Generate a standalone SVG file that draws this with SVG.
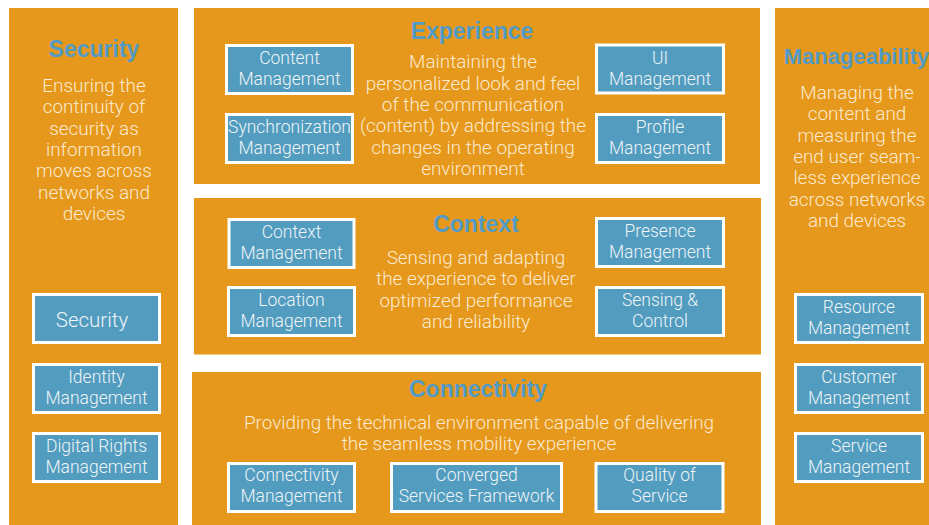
<svg xmlns="http://www.w3.org/2000/svg" width="929" height="525" viewBox="0 0 929 525">
<style>
.panel{fill:#E5981B}
.box rect{fill:#529CBF;stroke:#FFFFFF;stroke-width:3}
.title{font-family:"Liberation Sans",Arial,sans-serif;font-weight:bold;font-size:23px;fill:#519BC6;text-anchor:middle}
.desc{font-family:Roboto,"Liberation Sans",sans-serif;font-weight:300;font-size:18.9px;fill:#FCEAD0;text-anchor:middle}
.lbl{font-family:Roboto,"Liberation Sans",sans-serif;font-weight:300;font-size:17.5px;fill:#EEF4F7;text-anchor:middle}
</style>
<rect width="929" height="525" fill="#FFFFFF"/>

<g id="security-panel">
<rect class="panel" x="9" y="8" width="169" height="517"/>
<text class="title" x="94" y="57">Security</text>
<text class="desc" x="94" y="92">Ensuring the</text>
<text class="desc" x="94" y="113.3">continuity of</text>
<text class="desc" x="94" y="134.6">security as</text>
<text class="desc" x="94" y="155.9">information</text>
<text class="desc" x="94" y="177.2">moves across</text>
<text class="desc" x="94" y="198.5">networks and</text>
<text class="desc" x="94" y="219.8">devices</text>
</g>
<g id="security-box" class="box">
<rect x="33.5" y="294.5" width="126" height="48"/>
<text class="lbl" x="92" y="326.5" style="font-size:20.5px">Security</text>
</g>
<g id="identity-management" class="box">
<rect x="33.5" y="364.5" width="126" height="48"/>
<text class="lbl" x="96.5" y="382.5">Identity</text>
<text class="lbl" x="96.5" y="403.5">Management</text>
</g>
<g id="digital-rights-management" class="box">
<rect x="33.5" y="433.5" width="126" height="48"/>
<text class="lbl" x="96.5" y="451.5">Digital Rights</text>
<text class="lbl" x="96.5" y="472.5">Management</text>
</g>

<g id="experience-panel">
<rect class="panel" x="194" y="8" width="566" height="176"/>
<text class="title" x="472" y="38.5">Experience</text>
<text class="desc" x="473" y="68.3">Maintaining the</text>
<text class="desc" x="473" y="89.6">personalized look and feel</text>
<text class="desc" x="473" y="110.9">of the communication</text>
<text class="desc" x="473" y="132.2">(content) by addressing the</text>
<text class="desc" x="473" y="153.5">changes in the operating</text>
<text class="desc" x="473" y="174.8">environment</text>
</g>
<g id="content-management" class="box">
<rect x="226.5" y="45.5" width="126" height="48"/>
<text class="lbl" x="289.5" y="64">Content</text>
<text class="lbl" x="289.5" y="85">Management</text>
</g>
<g id="synchronization-management" class="box">
<rect x="226.5" y="114.5" width="126" height="48"/>
<text class="lbl" x="289.5" y="133">Synchronization</text>
<text class="lbl" x="289.5" y="154">Management</text>
</g>
<g id="ui-management" class="box">
<rect x="596.5" y="45" width="127" height="48"/>
<text class="lbl" x="660" y="63.5">UI</text>
<text class="lbl" x="660" y="84.5">Management</text>
</g>
<g id="profile-management" class="box">
<rect x="596.5" y="114.5" width="127" height="48"/>
<text class="lbl" x="660" y="133">Profile</text>
<text class="lbl" x="660" y="154">Management</text>
</g>

<g id="context-panel">
<rect class="panel" x="194" y="198" width="567" height="156.5"/>
<text class="title" x="476" y="231.7">Context</text>
<text class="desc" x="476" y="264">Sensing and adapting</text>
<text class="desc" x="476" y="285.3">the experience to deliver</text>
<text class="desc" x="476" y="306.6">optimized performance</text>
<text class="desc" x="476" y="327.9">and reliability</text>
</g>
<g id="context-management" class="box">
<rect x="229" y="219.5" width="125" height="48"/>
<text class="lbl" x="291.5" y="238">Context</text>
<text class="lbl" x="291.5" y="259">Management</text>
</g>
<g id="location-management" class="box">
<rect x="228.5" y="287.5" width="126" height="48"/>
<text class="lbl" x="291.5" y="306">Location</text>
<text class="lbl" x="291.5" y="327">Management</text>
</g>
<g id="presence-management" class="box">
<rect x="596.5" y="218.5" width="127" height="48"/>
<text class="lbl" x="660" y="237">Presence</text>
<text class="lbl" x="660" y="258">Management</text>
</g>
<g id="sensing-control" class="box">
<rect x="596.5" y="287.5" width="127" height="48"/>
<text class="lbl" x="660" y="306">Sensing &amp;</text>
<text class="lbl" x="660" y="327">Control</text>
</g>

<g id="connectivity-panel">
<rect class="panel" x="192" y="372" width="569" height="153"/>
<text class="title" x="478" y="396.7">Connectivity</text>
<text class="desc" x="479" y="429">Providing the technical environment capable of delivering</text>
<text class="desc" x="479" y="450.3">the seamless mobility experience</text>
</g>
<g id="connectivity-management" class="box">
<rect x="228.5" y="463.5" width="126" height="48"/>
<text class="lbl" x="291.5" y="481">Connectivity</text>
<text class="lbl" x="291.5" y="501.5">Management</text>
</g>
<g id="converged-services-framework" class="box">
<rect x="391.5" y="463.5" width="170" height="48"/>
<text class="lbl" x="476.5" y="481">Converged</text>
<text class="lbl" x="476.5" y="501.5">Services Framework</text>
</g>
<g id="quality-of-service" class="box">
<rect x="596" y="463.5" width="127" height="48"/>
<text class="lbl" x="659.5" y="481">Quality of</text>
<text class="lbl" x="659.5" y="501.5">Service</text>
</g>

<g id="manageability-panel">
<rect class="panel" x="775" y="8" width="154" height="517"/>
<text class="title" x="856.5" y="64" style="font-size:22px">Manageability</text>
<text class="desc" x="857" y="99">Managing the</text>
<text class="desc" x="857" y="120.3">content and</text>
<text class="desc" x="857" y="141.6">measuring the</text>
<text class="desc" x="857" y="162.9">end user seam-</text>
<text class="desc" x="857" y="184.2">less experience</text>
<text class="desc" x="857" y="205.5">across networks</text>
<text class="desc" x="857" y="226.8">and devices</text>
</g>
<g id="resource-management" class="box">
<rect x="795.5" y="294.5" width="127" height="48"/>
<text class="lbl" x="859" y="312.5">Resource</text>
<text class="lbl" x="859" y="333.5">Management</text>
</g>
<g id="customer-management" class="box">
<rect x="795.5" y="364.5" width="127" height="48"/>
<text class="lbl" x="859" y="382.5">Customer</text>
<text class="lbl" x="859" y="403.5">Management</text>
</g>
<g id="service-management" class="box">
<rect x="795.5" y="433.5" width="127" height="48"/>
<text class="lbl" x="859" y="451.5">Service</text>
<text class="lbl" x="859" y="472.5">Management</text>
</g>

<g id="connectors"></g>
</svg>
